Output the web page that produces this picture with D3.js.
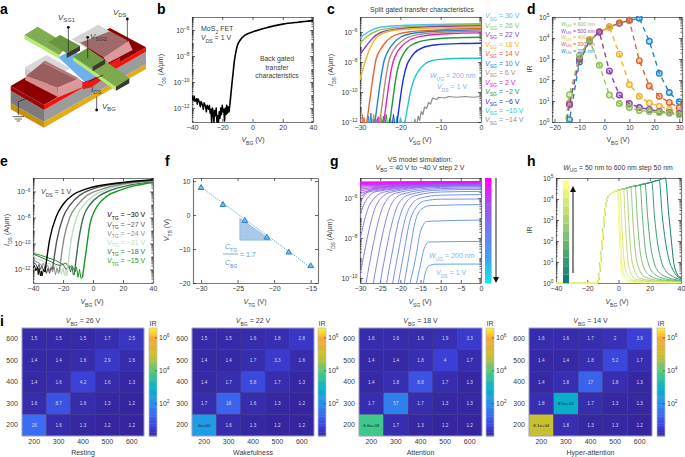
<!DOCTYPE html>
<html><head><meta charset="utf-8">
<script src="https://cdn.jsdelivr.net/npm/d3@7"></script>
<style>html,body{margin:0;padding:0;background:#fff}svg{display:block}text{font-family:"Liberation Sans",Arial,sans-serif}</style>
</head><body><svg id="c" width="685" height="457"></svg>
<script>
// ---------- panel b ----------
const bNoise=[[-40,-11.1],[-39,-11.4],[-38.5,-11.1],[-38,-11.5],[-37,-11.3],[-36.5,-11.7],[-36,-11.3],[-35,-11.6],[-34.5,-11.9],[-34,-11.5],[-33,-11.8],[-32.5,-12.1],[-32,-11.6],[-31,-11.9],[-30.5,-12.3],[-30,-11.8],[-29,-12.1],[-28.5,-11.8],[-28,-12.4],[-27.5,-12.1],[-27,-13.1],[-26.5,-12],[-26,-12.3],[-25.5,-13.1],[-25,-12.2],[-24.5,-12.6],[-24,-12],[-23.5,-13.1],[-23,-12.6],[-22.5,-13.1],[-22,-12.3],[-21.5,-12.8],[-21,-12],[-20.5,-12.5],[-20,-11.8],[-19.5,-12.3],[-19,-12.1],[-18.5,-13],[-18,-12],[-17.5,-12.5],[-17,-11.8],[-16.5,-12.4],[-16,-11.9],[-15.5,-12.3],[-15,-11.8]];
const bRise=[[-15,-11.8],[-14,-10.6],[-13,-9.5],[-12,-8.4],[-11,-7.7],[-10,-7.2],[-8,-6.75],[-5,-6.4],[0,-6.15],[10,-5.8],[20,-5.55],[30,-5.4],[40,-5.28]];
// ---------- panel c ----------
const cGates=[30,26,22,18,14,10,6,2,-2,-6,-10,-14];
const cColors=["#55bdea","#8fc24f","#8e44ad","#f6b321","#e9642b","#1f86c9","#b18d6e","#e021c8","#1f9a32","#1b2de6","#22c8c0","#8c8c8c"];
const cCurves=[
[[-30,-6.4],[-28,-6.0],[-26,-5.75],[-22,-5.6],[-12,-5.5],[0,-5.45]],
[[-30,-6.73],[-28,-6.25],[-26,-5.95],[-22,-5.72],[-12,-5.57],[0,-5.5]],
[[-30,-7.5],[-28.5,-6.95],[-27,-6.45],[-25,-6.05],[-21,-5.8],[-12,-5.65],[0,-5.58]],
[[-30,-9.2],[-29,-8.2],[-28,-7.4],[-27,-6.8],[-26,-6.4],[-24,-6.05],[-20,-5.85],[-10,-5.72],[0,-5.68]],
[[-28.4,-12.2],[-27.6,-10.6],[-27,-9.4],[-26,-7.8],[-25,-7.2],[-24,-6.8],[-22,-6.3],[-18,-6.0],[-10,-5.85],[0,-5.77]],
[[-26.4,-12.2],[-25.6,-10.6],[-25,-9.4],[-24,-7.9],[-23,-7.25],[-22,-6.85],[-20,-6.35],[-16,-6.05],[-8,-5.92],[0,-5.86]],
[[-25.2,-12.2],[-24.4,-10.6],[-23.8,-9.4],[-22.8,-7.9],[-21.8,-7.25],[-20.8,-6.9],[-18.8,-6.45],[-15,-6.15],[-8,-6.0],[0,-5.95]],
[[-24.2,-12.2],[-23.4,-10.6],[-22.8,-9.4],[-21.8,-8],[-20.8,-7.35],[-19.8,-7],[-17.8,-6.55],[-14,-6.25],[-7,-6.1],[0,-6.06]],
[[-22.7,-12.2],[-21.9,-10.6],[-21.3,-9.4],[-20.3,-8.1],[-19.3,-7.5],[-18.3,-7.1],[-16.3,-6.75],[-12.5,-6.5],[-6,-6.38],[0,-6.35]],
[[-20.9,-12.2],[-20.1,-10.6],[-19.5,-9.5],[-18.5,-8.3],[-17.5,-7.75],[-16.5,-7.4],[-14.5,-7.05],[-11,-6.85],[-5,-6.77],[0,-6.75]],
[[-19,-12.2],[-18.2,-11],[-17.5,-10],[-16.5,-9.1],[-15.5,-8.6],[-14,-8.15],[-12,-7.9],[-9,-7.8],[-4,-7.75],[0,-7.75]],
[]];
const cGreyCurve=[[-17.6,-12.5],[-17.2,-12],[-16.8,-12.8],[-16.4,-11.8],[-16,-12.4],[-15.6,-11.6],[-15.2,-11.9],[-14.8,-11.3],[-14.4,-11.5],[-14,-11],[-13.5,-11.1],[-13,-10.7],[-12.5,-10.8],[-12,-10.4],[-11,-10.5],[-10.5,-10.35],[-9,-10.4],[-8,-10.3],[-6,-10.35],[-4,-10.3],[-2,-10.35],[0,-10.3]];
const cNoise=[
[[-29.6,-12.4],[-29.4,-11.5],[-29.2,-12.4],[-29,-11.7],[-28.8,-12.4]],
[[-28.2,-12.4],[-27.9,-11.6],[-27.6,-12.4],[-27.3,-11.4],[-27,-12.4],[-26.7,-11.8],[-26.5,-12.4]],
[[-27,-12.4],[-26.6,-11.5],[-26.3,-12.4],[-26,-11.8],[-25.7,-12.4],[-25.4,-11.6],[-25.2,-12.4]],
[[-26,-12.4],[-25.6,-11.7],[-25.3,-12.4],[-24.9,-11.5],[-24.5,-12.4],[-24.2,-12]],
[[-24.6,-12.4],[-24.2,-11.6],[-23.9,-12.4],[-23.5,-11.5],[-23.1,-12.4],[-22.7,-11.8],[-22.5,-12.4]],
[[-23,-12.4],[-22.5,-11.7],[-22.1,-12.4],[-21.7,-11.5],[-21.3,-12.4],[-20.9,-12]],
[[-21.3,-12.4],[-20.8,-11.6],[-20.4,-12.4],[-20,-11.7],[-19.5,-12.4],[-19,-12]]];
const cNoiseColors=["#e9642b","#1f86c9","#b18d6e","#e021c8","#1f9a32","#1b2de6","#22c8c0"];
// ---------- panel d ----------
const dWidths=[600,500,400,300,200];
const dColors=["#8fc24f","#8e44ad","#f0b429","#e0632b","#1f86c9"];
const dSeries=[
[[-18,-2],[-14,1.3],[-10,3.15],[-6,3.9],[-2,2.7],[2,1.28],[6,.88],[10,.69],[14,.55],[18,.5],[22,.45],[26,.42],[30,.35]],
[[-18,-2],[-14,.83],[-10,3],[-6,3.9],[-2,4.28],[2,2.43],[6,1.28],[10,.88],[14,.69],[18,.6],[22,.5],[26,.45],[30,.4]],
[[-18,-2],[-14,.9],[-10,3],[-6,3.9],[-2,4.28],[2,4.52],[6,3.23],[10,1.79],[14,1.23],[18,.91],[22,.75],[26,.6],[30,.48]],
[[-18,-2],[-14,.9],[-10,3],[-6,3.9],[-2,4.28],[2,4.52],[6,4.71],[10,4.84],[14,2.92],[18,1.71],[22,1.23],[26,.93],[30,.69]],
[[-18,-4],[-14,.11],[-10,2.86],[-6,3.85],[-2,4.28],[2,4.52],[6,4.7],[10,4.84],[14,4.94],[18,3.85],[22,2.32],[26,1.4],[30,.96]]];
// ---------- panel e ----------
const eGates=[-30,-27,-24,-21,-18,-15];
const eColors=["#000000","#565656","#8e8e8e","#bcdcbc","#3d6f52","#169a1e"];
const eCurves=[
[[-32,-12.2],[-28.9,-9.7],[-24.4,-7.9],[-20,-7],[-13.3,-6.25],[-4.4,-5.8],[20,-5.3],[40,-5.1]],
[[-27,-12],[-24,-9.7],[-20,-8],[-15,-7],[-9,-6.3],[0,-5.8],[20,-5.35],[40,-5.13]],
[[-22.5,-12.2],[-19.5,-9.7],[-15.5,-8],[-10,-7],[-4,-6.3],[5,-5.85],[20,-5.42],[40,-5.15]],
[[-17.5,-12.5],[-14.5,-9.7],[-11,-8],[-6,-7],[0,-6.35],[8,-5.9],[22,-5.45],[40,-5.18]],
[[-12.5,-12.4],[-9.5,-9.7],[-6.5,-8],[-2,-7],[4,-6.35],[12,-5.9],[25,-5.5],[40,-5.22]],
[[-7,-12.6],[-4.5,-10.5],[-2,-8.5],[1,-7.5],[5,-6.8],[10,-6.3],[18,-5.9],[28,-5.55],[40,-5.3]]];
const eNoise=[
[[-40,-11.9],[-39,-11.7],[-38,-12.1],[-37,-11.8],[-36.5,-12.4],[-36,-11.9],[-35,-12.5],[-34.5,-12.1],[-34,-12.5],[-33,-12],[-32,-12.2]],
[[-40,-11.5],[-38,-11.6],[-37,-11.9],[-36,-11.6],[-35,-12],[-34,-11.7],[-33,-12.1],[-32,-11.8],[-31,-12.3],[-30,-11.9],[-29,-12.3],[-28,-11.9],[-27,-12]],
[[-40,-11.2],[-38,-11.4],[-36,-11.5],[-34,-11.7],[-33,-11.5],[-32,-11.9],[-30,-11.7],[-29,-12.1],[-28,-11.8],[-27,-12.2],[-26,-11.8],[-25,-12.4],[-24,-11.9],[-23,-12.3],[-22.5,-12.2]],
[[-40,-11],[-37,-11.2],[-34,-11.3],[-31,-11.6],[-29,-11.5],[-27,-11.9],[-25,-11.7],[-23,-12.1],[-22,-11.8],[-21,-12.4],[-20,-11.9],[-19,-12.5],[-18.3,-12],[-17.5,-12.5]],
[[-40,-10.8],[-36,-11],[-32,-11.2],[-28,-11.4],[-25,-11.6],[-22,-11.7],[-20,-11.6],[-18,-12],[-16,-11.7],[-15,-12.2],[-14,-11.8],[-13.2,-12.4],[-12.5,-12.4]],
[[-40,-10.75],[-35,-10.9],[-30,-11.1],[-25,-11.3],[-20,-11.6],[-18,-11.5],[-16,-11.9],[-14,-11.7],[-12,-12.2],[-11,-11.8],[-10,-12.6],[-9,-12],[-8,-12.7],[-7,-12.6]]];
// ---------- panel f ----------
const fTg=[-30,-27,-24,-21,-18,-15];
const fTb=[8,3,-1.7,-6.6,-11,-15];
const fFit=[[-30,8.2],[-15,-15.4]];
const fWedge=[[-24.7,-0.9],[-24.7,-7.4],[-20.4,-7.4]];
// ---------- panel g ----------
const gGates=[-14,-12,-10,-8,-6,-4,-2,0,2,4,6,8,10,12,14,16,18,20,22,24,26,28,30,32,34,36,38,40];
const gCurves=[
[[-14.3,-10.25],[-13.8,-9.75],[-13,-9.4],[-11.3,-9.31],[0,-9.3]],
[[-16,-10.25],[-15,-9.33],[-14.2,-8.6],[-12.9,-8.2],[0,-8.17]],
[[-17.6,-10.25],[-16.3,-9.1],[-15,-7.67],[-13.4,-7.17],[0,-7.1]],
[[-19,-10.25],[-17.6,-8.6],[-16.3,-7.17],[-14.7,-6.55],[-12.6,-6.38],[0,-6.33]],
[[-20.5,-10.25],[-19,-8.6],[-17.7,-7.2],[-16.2,-6.5],[-14,-6.15],[-10,-6.06],[0,-6.05]],
[[-21.9,-10.25],[-20.4,-8.6],[-19,-7.2],[-17.5,-6.4],[-15,-6],[-10,-5.86],[0,-5.83]],
[[-23.4,-10.25],[-21.9,-8.6],[-20.5,-7.2],[-19,-6.35],[-16.5,-5.9],[-10,-5.7],[0,-5.67]],
[[-25,-10.25],[-23.5,-8.6],[-22,-7.2],[-20.5,-6.3],[-18,-5.85],[-10,-5.6],[0,-5.57]],
[[-26.7,-10.25],[-25.2,-8.6],[-23.7,-7.2],[-22.2,-6.3],[-19.5,-5.8],[-10,-5.53],[0,-5.5]],
[[-28.5,-10.25],[-27,-8.6],[-25.5,-7.2],[-24,-6.3],[-21,-5.75],[-10,-5.47],[0,-5.44]],
[[-30,-9.9],[-28.8,-8.6],[-27.3,-7.2],[-25.8,-6.3],[-22.5,-5.72],[-10,-5.42],[0,-5.4]],
[[-30,-8.1],[-29,-7.2],[-27.5,-6.3],[-24,-5.7],[-10,-5.4],[0,-5.37]],
[[-30,-6.9],[-29,-6.3],[-26,-5.68],[-10,-5.38],[0,-5.35]],
[[-30,-6.25],[-28,-5.7],[-10,-5.36],[0,-5.33]],
[[-30,-5.95],[-27,-5.6],[-10,-5.34],[0,-5.31]],
[[-30,-5.78],[-25,-5.5],[-10,-5.32],[0,-5.3]],
[[-30,-5.65],[-24,-5.45],[-10,-5.3],[0,-5.28]],
[[-30,-5.55],[-22,-5.4],[-10,-5.29],[0,-5.27]],
[[-30,-5.47],[-20,-5.36],[-10,-5.28],[0,-5.26]],
[[-30,-5.41],[-20,-5.33],[-10,-5.27],[0,-5.25]],
[[-30,-5.37],[-20,-5.31],[0,-5.24]],
[[-30,-5.34],[-20,-5.29],[0,-5.23]],
[[-30,-5.31],[-20,-5.27],[0,-5.22]],
[[-30,-5.28],[-20,-5.25],[0,-5.21]],
[[-30,-5.26],[-20,-5.23],[0,-5.2]],
[[-30,-5.24],[-20,-5.21],[0,-5.19]],
[[-30,-5.22],[-20,-5.2],[0,-5.18]],
[[-30,-5.2],[-20,-5.19],[0,-5.17]]];
const gBarStops=[-40,-20,0,20,40];
const gBarColors=["#0aeee0","#3fa2f0","#6f7cf0","#a550ee","#ff00ff"];
// ---------- panel h ----------
const hWidths=[50,100,150,200,250,300,350,400,450,500,550,600];
const hRise=[[-40,0],[-13.4,0],[-10.6,1.75],[-8.5,3.5],[-6.4,4.13],[-3,4.32],[-0.8,4.41],[3,4.47],[8,4.58],[13,4.65],[16,4.71],[20,4.78],[26,4.9],[30,5]];
const hFalls=[
[[30,5],[32,3.4],[34,1.9],[35.1,1.11],[37.2,.48],[40,.24]],
[[26,4.9],[28,3.2],[30,2],[32,1.2],[35,.6],[40,.2]],
[[21.3,4.8],[23,3.2],[25,1.9],[27,1.15],[30,.6],[35,.3],[40,.15]],
[[17,4.72],[18.6,3.2],[20.5,1.8],[22.5,1.05],[26,.5],[32,.25],[40,.12]],
[[13.8,4.66],[15.3,3.2],[17,1.7],[19,.95],[23,.42],[30,.2],[40,.1]],
[[10.6,4.62],[12,3.1],[13.7,1.6],[15.7,.85],[20,.35],[28,.15],[40,.08]],
[[7.9,4.58],[9.2,3],[10.8,1.5],[12.8,.75],[17,.28],[26,.12],[40,.06]],
[[5.3,4.53],[6.5,3],[8,1.4],[10,.65],[14,.22],[24,.09],[40,.05]],
[[3.2,4.49],[4.3,3],[5.7,1.3],[7.5,.55],[11,.18],[22,.07],[40,.04]],
[[1,4.46],[2,3],[3.4,1.2],[5.2,.45],[9,.14],[20,.05],[40,.03]],
[[-0.3,4.43],[.7,3],[2,1.1],[3.6,.35],[7,.1],[18,.03],[40,.02]],
[[-0.8,4.41],[.2,2.8],[1.3,1],[2.8,.25],[5.5,.06],[15,.01],[40,0]]];
const hBarColors=["#0f7f6f","#5cb070","#b9d97a","#fbfb82"];
// ---------- panel i ----------
const iSizes=["200","300","400","500","600"];
const iTitles=["26","22","18","14"];
const iStates=["Resting","Wakefulness","Attention","Hyper-attention"];
const iTable1=[["1.5","1.5","1.5","1.7","2.5"],["1.4","1.4","1.6","2.9","1.6"],["1.4","1.6","4.2","1.6","1.3"],["1.6","8.7","1.6","1.3","1.2"],["26","1.6","1.3","1.2","1.2"]];
const iTable2=[["1.5","1.5","1.6","1.8","2.8"],["1.4","1.4","1.7","3.3","1.6"],["1.4","1.7","5.8","1.7","1.3"],["1.7","18","1.6","1.3","1.2"],["2e+02","1.6","1.3","1.2","1.2"]];
const iTable3=[["1.6","1.6","1.6","1.9","3.3"],["1.4","1.4","1.8","4","1.7"],["1.4","1.8","8.8","1.7","1.3"],["1.7","57","1.7","1.3","1.3"],["6.6e+03","1.7","1.3","1.2","1.2"]];
const iTable4=[["1.6","1.6","1.7","2","3.9"],["1.4","1.4","1.8","5.2","1.7"],["1.4","1.8","17","1.8","1.3"],["1.8","8.5e+02","1.7","1.3","1.3"],["8.1e+04","1.8","1.3","1.3","1.2"]];
const iColorExp=[0.05,0.6,1.4,2.3,2.93,3.8,4.9,6,6.6];
const iColorRamp=["#35249c","#3b3fd6","#3a6cf2","#1e9ce6","#05b0c8","#3cc88c","#c8c030","#f6a832","#f8f820"];

// ---------- helpers ----------
const svg=d3.select("#c");
const INK="#3a3a3a", SZ=7;
let clipN=0;
function rich(parent,x,y,s,o={}){
  const size=o.size||SZ, fill=o.fill||INK;
  const t=parent.append("text").attr("x",x).attr("y",y+size*0.35)
    .attr("font-size",size).attr("fill",fill).attr("text-anchor",o.anchor||"start");
  if(o.rotate) t.attr("transform",`rotate(${o.rotate} ${x} ${y})`);
  if(o.weight) t.attr("font-weight",o.weight);
  let off=0;
  (s.match(/\*[^*]+\*|_\{[^}]*\}|\^\{[^}]*\}|[^*_^]+/g)||[]).forEach(tok=>{
    const ts=t.append("tspan");let want=0;
    if(tok[0]==="*"){ts.text(tok.slice(1,-1)).attr("font-style","italic");}
    else if(tok[0]==="_"){ts.text(tok.slice(2,-1)).attr("font-size",size*0.72);want=size*0.3;}
    else if(tok[0]==="^"){ts.text(tok.slice(2,-1)).attr("font-size",size*0.7);want=-size*0.42;}
    else ts.text(tok);
    if(want!==off) ts.attr("dy",want-off);
    off=want;
  });
  return t;
}
const fmt=d3.format("d");
function styleAxis(g){
  g.select(".domain").attr("stroke","#7a7a7a").attr("stroke-width",1.2);
  g.selectAll(".tick line").attr("stroke","#222").attr("stroke-width",.7);
  g.selectAll(".tick text").attr("font-size",SZ).attr("fill",INK).attr("font-family","Liberation Sans");
}
function panel(o){
  const g=svg.append("g");
  const x=d3.scaleLinear().domain(o.xd).range([o.x0,o.x1]);
  const y=o.log?d3.scaleLog().domain([10**o.yd[0],10**o.yd[1]]).range([o.y1,o.y0])
               :d3.scaleLinear().domain(o.yd).range([o.y1,o.y0]);
  const yv=o.log?(e=>y(10**e)):y;
  const ax=(fn,sc,vals,tr,labelled)=>{
    const a=fn(sc).tickValues(vals).tickSizeInner(-3).tickSizeOuter(0).tickPadding(3.2).tickFormat(labelled?fmt:"");
    const gg=g.append("g").attr("transform",tr).call(a);styleAxis(gg);return gg;
  };
  ax(d3.axisBottom,x,o.xt,`translate(0,${o.y1})`,true);
  ax(d3.axisTop,x,o.xt,`translate(0,${o.y0})`,false);
  let yVals=o.yt;
  if(o.log){
    yVals=[];
    for(let e=Math.floor(o.yd[0]);e<Math.ceil(o.yd[1]);e++)for(let m=1;m<10;m++){const v=m*10**e;if(v>=10**o.yd[0]*.999&&v<=10**o.yd[1]*1.001)yVals.push(v);}
    yVals.push(10**o.yd[1]);
  }
  const isMajor=v=>{const e=Math.log10(v);return Math.abs(e-Math.round(e))<1e-6&&o.yt.includes(Math.round(e));};
  [[d3.axisLeft,o.x0,-1],[d3.axisRight,o.x1,1]].forEach(([fn,px,side])=>{
    const a=fn(y).tickValues(yVals).tickSizeOuter(0).tickPadding(2.5).tickSizeInner(-3).tickFormat(side<0?(o.log?"":fmt):"");
    const gg=g.append("g").attr("transform",`translate(${px},0)`).call(a);styleAxis(gg);
    if(o.log){
      gg.selectAll(".tick line").attr("x2",d=>isMajor(d)?-side*3:-side*1.6);
      if(side<0) gg.selectAll(".tick").each(function(d){
        if(isMajor(d)) rich(d3.select(this),-2.5,0,`10^{${fmt(Math.round(Math.log10(d)))}}`,{anchor:"end"});
      });
    }
  });
  const id="cp"+(++clipN);
  svg.append("clipPath").attr("id",id).append("rect").attr("x",o.x0).attr("y",o.y0-1).attr("width",o.x1-o.x0).attr("height",o.y1-o.y0+2);
  const plot=svg.append("g").attr("clip-path",`url(#${id})`);
  const lin=d3.line().x(d=>x(d[0])).y(d=>yv(d[1]));
  const smooth=d3.line().x(d=>x(d[0])).y(d=>yv(d[1])).curve(d3.curveMonotoneX);
  return {x,y,yv,g,plot,lin,smooth};
}
function stroke(p,path,data,color,w,extra){
  const s=p.plot.append("path").attr("d",path(data)).attr("fill","none").attr("stroke",color).attr("stroke-width",w).attr("stroke-linejoin","round");
  if(extra) s.attr("stroke-dasharray",extra);
  return s;
}
[["a",0,9],["b",157,9],["c",327,9],["d",527,9],["e",0,161],["f",165,161],["g",330,161],["h",527,161],["i",0,321]]
 .forEach(([l,x,y])=>rich(svg,x,y,l,{size:14,weight:"bold",fill:"#000"}));

// ---------- panel a : device schematic ----------
const sch=d3.scaleLinear().domain([0,690]).range([0,230]);
const schLine=d3.line().x(d=>sch(d[0])).y(d=>sch(d[1]));
const faces=[
["#c4920f",[[32,310],[132,365],[132,383],[32,328]]],
["#e3ad16",[[132,365],[438,192],[438,207],[132,383]]],
["#7b7b7b",[[32,272],[132,330],[132,365],[32,310]]],
["#9c9c9c",[[132,330],[438,155],[438,192],[132,365]]],
["#a00808",[[32,258],[132,315],[132,330],[32,272]]],
["#ee1414",[[132,315],[438,142],[438,155],[132,330]]],
["#8d0000",[[32,258],[150,190],[250,246],[132,315]]],
["#8d0000",[[240,130],[330,84],[438,142],[335,200]]],
["#d8d8d8",[[75,202],[140,165],[210,205],[145,245]]],
["#c9c9c9",[[75,202],[145,245],[145,262],[75,225]]],
["#d4d4d4",[[215,118],[295,74],[340,100],[262,146]]],
["#6eb1ea",[[175,172],[215,150],[330,212],[275,250],[250,242]]],
["#eb1a1a",[[235,250],[248,246],[248,268],[275,262],[340,215],[340,198],[360,186],[360,172],[322,195],[320,212],[270,240],[235,250]]],
["#9a5e5e",[[78,228],[135,182],[235,235],[172,262]]],
["#b87c7c",[[135,182],[168,200],[205,218],[235,235],[232,240],[130,190]]],
["#d89a9a",[[172,262],[235,235],[247,245],[247,262],[175,292]]],
["#d68f8f",[[78,228],[172,262],[175,292],[75,240]]],
["#a06a6a",[[240,128],[330,94],[385,122],[310,172]]],
["#d89a9a",[[310,172],[385,122],[398,150],[322,190]]],
["#b7ec72",[[73,105],[178,165],[178,176],[73,117]]],
["#82ac52",[[73,105],[113,80],[205,135],[178,165]]],
["#6a9640",[[145,127],[180,105],[240,137],[200,160]]],
["#3a3a2c",[[200,160],[240,137],[240,152],[200,174]]],
["#b7ec72",[[220,170],[348,260],[348,272],[220,182]]],
["#7fa94e",[[220,170],[262,145],[388,235],[348,260]]],
["#6d9a44",[[220,170],[262,145],[315,180],[278,205]]],
["#3a3a2c",[[278,200],[315,178],[315,192],[278,214]]],
["#3a3a2c",[[348,260],[388,235],[388,250],[348,272]]]];
const schG=svg.append("g");
faces.forEach(([c,p])=>schG.append("path").attr("d",schLine(p)+"Z").attr("fill",c));
const wires=[[[205,82],[205,155]],[[263,112],[263,175]],[[382,57],[382,125]],[[290,330],[290,290]],[[265,245],[310,225]],[[55,345],[55,305],[80,295]],[[38,350],[72,350]],[[44,357],[66,357]],[[50,363],[60,363]]];
wires.forEach(w=>schG.append("path").attr("d",schLine(w)).attr("fill","none").attr("stroke","#222").attr("stroke-width",.7));
[[205,82],[263,112],[382,57],[290,330]].forEach(d=>schG.append("circle").attr("cx",sch(d[0])).attr("cy",sch(d[1])).attr("r",1.4).attr("fill","#111"));
[["*V*_{SG1}",58,17],["*V*_{DS}",113,12],["*V*_{SG2}",90,36],["*I*_{DS}",91,89],["*V*_{BG}",102,106]].forEach(([s,x,y])=>rich(svg,x,y,s,{size:8}));

// ---------- panel b ----------
{const p=panel({x0:192,x1:313,y0:17,y1:122,xd:[-40,40],yd:[-13.08,-5],log:true,xt:[-40,-20,0,20,40],yt:[-12,-10,-8,-6]});
 stroke(p,p.lin,bNoise,"#000",1.5);stroke(p,p.smooth,bRise,"#000",1.6);
 rich(svg,201,29,"MoS_{2} FET");rich(svg,201,38,"*V*_{DS} = 1 V");
 ["Back gated","transfer","characteristics"].forEach((t,i)=>rich(svg,277,59+i*8.5,t,{anchor:"middle",size:6.8}));
 rich(svg,161,70,"*I*_{DS} (A/µm)",{anchor:"middle",rotate:-90});
 rich(svg,253,140,"*V*_{BG} (V)",{anchor:"middle"});}

// ---------- panel c ----------
{const q=panel({x0:360,x1:481,y0:17,y1:122,xd:[-30,0],yd:[-12,-5],log:true,xt:[-30,-20,-10,0],yt:[-12,-10,-8,-6]});
 cNoise.forEach((n,i)=>stroke(q,q.lin,n,cNoiseColors[i],1));
 stroke(q,q.lin,cGreyCurve,cColors[11],1.2);
 cCurves.forEach((c,i)=>{if(c.length)stroke(q,q.smooth,c,cColors[i],1.4);});
 rich(svg,422,10,"Split gated transfer characteristics",{anchor:"middle",size:6.9});
 rich(svg,430,76,"*W*_{UG} = 200 nm",{fill:"#86b2e2"});rich(svg,437,87,"*V*_{DS} = 1 V",{fill:"#86b2e2"});
 cGates.forEach((v,i)=>rich(svg,485,16+i*9.45,`*V*_{SG} = ${fmt(v)} V`,{fill:cColors[i]}));
 rich(svg,331,70,"*I*_{DS} (A/µm)",{anchor:"middle",rotate:-90});
 rich(svg,420,140,"*V*_{SG} (V)",{anchor:"middle"});}

// ---------- panel d ----------
{const p=panel({x0:552,x1:682,y0:17,y1:122,xd:[-21,31.1],yd:[0,5],log:true,xt:[-20,-10,0,10,20,30],yt:[0,1,2,3,4,5]});
 [4,3,2,1,0].forEach(i=>{
  stroke(p,p.lin,dSeries[i],dColors[i],1.4,"5 4");
  p.plot.selectAll(null).data(dSeries[i]).join("circle").attr("cx",d=>p.x(d[0])).attr("cy",d=>p.yv(d[1])).attr("r",2.8)
    .attr("fill",dColors[i]).attr("fill-opacity",.3).attr("stroke",dColors[i]).attr("stroke-width",1.4);
 });
 dWidths.forEach((w,i)=>rich(svg,561,24+i*6.7,`*W*_{UG} = ${w} nm`,{size:5.2,fill:dColors[i]}));
 rich(svg,530,69,"IR",{anchor:"middle",rotate:-90});
 rich(svg,618,140,"V_{BG} (V)",{anchor:"middle"});}

// ---------- panel e ----------
{const p=panel({x0:33,x1:153,y0:178,y1:283,xd:[-40,40],yd:[-13.04,-4.96],log:true,xt:[-40,-20,0,20,40],yt:[-12,-10,-8,-6]});
 [5,4,3,2,1,0].forEach(i=>{stroke(p,p.lin,eNoise[i],eColors[i],1);stroke(p,p.smooth,eCurves[i],eColors[i],1.4);});
 rich(svg,41,192,"*V*_{DS} = 1 V");
 eGates.forEach((v,i)=>rich(svg,107,215+i*9.2,`*V*_{TG} = ${fmt(v)} V`,{fill:eColors[i]}));
 rich(svg,7,230,"*I*_{DS} (A/µm)",{anchor:"middle",rotate:-90});
 rich(svg,92,302,"*V*_{BG} (V)",{anchor:"middle"});}

// ---------- panel f ----------
{const p=panel({x0:193,x1:318,y0:178,y1:283,xd:[-31.1,-14],yd:[-20,10.9],log:false,xt:[-30,-25,-20,-15],yt:[-20,-10,0,10]});
 const w=d3.line().x(d=>p.x(d[0])).y(d=>p.y(d[1]));
 p.plot.append("path").attr("d",w(fWedge)+"Z").attr("fill","#a9c9ea").attr("stroke","#6ea0d6").attr("stroke-width",.5);
 stroke(p,w,fFit,"#4f9ad8",.8,"1.5 1");
 const tri=d3.symbol().type(d3.symbolTriangle).size(14);
 p.plot.selectAll(null).data(fTg).join("path").attr("d",tri).attr("transform",(d,i)=>`translate(${p.x(d)},${p.y(fTb[i])})`)
   .attr("fill","#7db8e8").attr("stroke","#2a82cc").attr("stroke-width",1);
 const B="#4f9ad8";
 rich(svg,225,247,"*C*_{TG}",{fill:B});rich(svg,225,263,"*C*_{BG}",{fill:B});
 svg.append("line").attr("x1",223).attr("x2",238).attr("y1",254).attr("y2",254).attr("stroke",B).attr("stroke-width",.8);
 rich(svg,240,255,"= 1.7",{fill:B});
 rich(svg,167,230,"*V*_{TB} (V)",{anchor:"middle",rotate:-90});
 rich(svg,255,302,"*V*_{TG} (V)",{anchor:"middle"});}

// ---------- panel g ----------
{const p=panel({x0:360,x1:481,y0:178,y1:283,xd:[-30,0],yd:[-10.25,-5],log:true,xt:[-30,-25,-20,-15,-10,-5,0],yt:[-10,-8,-6]});
 const col=d3.scaleLinear().domain(gBarStops).range(gBarColors);
 gCurves.forEach((c,i)=>stroke(p,p.smooth,c,col(gGates[i]),.9));
 const bar=d3.scaleLinear().domain([40,-40]).range([178,283]);
 svg.selectAll(null).data(d3.range(40,-40,-2)).join("rect").attr("x",485).attr("width",6.5).attr("y",d=>bar(d)).attr("height",bar(0)-bar(2)+.5).attr("fill",d=>col(d));
 svg.append("line").attr("x1",496).attr("x2",496).attr("y1",178).attr("y2",277).attr("stroke","#222").attr("stroke-width",1);
 svg.append("path").attr("d","M493,277L499,277L496,283Z").attr("fill","#111");
 rich(svg,420,160,"VS model simulation:",{anchor:"middle",size:6.9});
 rich(svg,420,168,"*V*_{BG} = 40 V to −40 V step 2 V",{anchor:"middle",size:6.9});
 rich(svg,429,256,"*W*_{UG} = 200 nm",{fill:"#86b2e2"});rich(svg,436,273,"*V*_{DS} = 1 V",{fill:"#86b2e2"});
 rich(svg,330,235,"*I*_{DS} (A/µm)",{anchor:"middle",rotate:-90});
 rich(svg,420,302,"*V*_{SG} (V)",{anchor:"middle"});}

// ---------- panel h ----------
{const p=panel({x0:556,x1:681,y0:178,y1:283,xd:[-40,40],yd:[0,5],log:true,xt:[-40,-20,0,20,40],yt:[0,1,2,3,4,5]});
 const col=d3.scaleLinear().domain([50,233,417,600]).range(hBarColors);
 hWidths.forEach((w,i)=>{
  const peak=hFalls[i][0][0];
  stroke(p,p.smooth,hRise.filter(d=>d[0]<peak).concat(hFalls[i]),col(w),1);
 });
 const bar=d3.scaleLinear().domain([600,50]).range([185,279]);
 svg.selectAll(null).data(hWidths).join("rect").attr("x",563).attr("width",6).attr("y",d=>bar(d)-4.3).attr("height",8.6).attr("fill",d=>col(d));
 svg.append("line").attr("x1",573).attr("x2",573).attr("y1",273).attr("y2",192).attr("stroke","#111").attr("stroke-width",1);
 svg.append("path").attr("d","M570,192L576,192L573,186Z").attr("fill","#111");
 rich(svg,618,168,"*W*_{UG} = 50 nm to 600 nm step 50 nm",{anchor:"middle",size:6.9});
 rich(svg,530,230,"IR",{anchor:"middle",rotate:-90});
 rich(svg,617,302,"*V*_{BG} (V)",{anchor:"middle"});}

// ---------- panel i ----------
const heatColor=d3.scaleLinear().domain(iColorExp).range(iColorRamp);
[iTable1,iTable2,iTable3,iTable4].forEach((tbl,k)=>{
  const X0=[22,192,359,529][k],X1=[144,314,482,652][k],B0=[149,318,486,657][k];
  const Y0=328,Y1=436;
  const x=d3.scaleBand().domain(iSizes).range([X0,X1]);
  const y=d3.scaleBand().domain(iSizes.slice().reverse()).range([Y0,Y1]);
  const g=svg.append("g");
  const rows=y.domain();
  tbl.forEach((row,r)=>row.forEach((s,c)=>{
    const v=+s;
    g.append("rect").attr("x",x(iSizes[c])).attr("y",y(rows[r])).attr("width",x.bandwidth()).attr("height",y.bandwidth())
      .attr("fill",heatColor(Math.log10(v))).attr("stroke","#2e2680").attr("stroke-width",.35);
    g.append("text").attr("x",x(iSizes[c])+x.bandwidth()/2).attr("y",y(rows[r])+y.bandwidth()/2+1.6).attr("text-anchor","middle")
      .attr("font-size",v>=100?4.4:4.6).attr("fill",v>=100?"#14143c":"#d6d6ee").text(s);
  }));
  g.append("rect").attr("x",X0).attr("y",Y0).attr("width",X1-X0).attr("height",Y1-Y0).attr("fill","none").attr("stroke","#b9b9d6").attr("stroke-width",.8);
  const ab=g.append("g").attr("transform",`translate(0,${Y1})`).call(d3.axisBottom(x).tickSize(0).tickPadding(3));
  const al=g.append("g").attr("transform",`translate(${X0},0)`).call(d3.axisLeft(y).tickSize(0).tickPadding(4));
  [ab,al].forEach(a=>{a.select(".domain").remove();a.selectAll("text").attr("font-size",SZ).attr("fill",INK).attr("font-family","Liberation Sans");});
  const cx=(X0+X1)/2;
  rich(svg,cx,321,`*V*_{BG} = ${iTitles[k]} V`,{anchor:"middle"});
  rich(svg,cx,453,iStates[k],{anchor:"middle"});
  const by=d3.scaleLinear().domain([0.05,6.6]).range([Y1,Y0]);
  const bh=(Y1-Y0)/60;
  g.selectAll(null).data(d3.range(0,60)).join("rect").attr("x",B0).attr("width",8).attr("y",d=>Y1-(d+1)*bh).attr("height",bh+.4)
    .attr("fill",d=>heatColor(by.invert(Y1-(d+.5)*bh)));
  g.append("rect").attr("x",B0).attr("y",Y0).attr("width",8).attr("height",Y1-Y0).attr("fill","none").attr("stroke","#b9b9d6").attr("stroke-width",.7);
  [2,4,6].forEach(e=>{
    g.append("line").attr("x1",B0+8).attr("x2",B0+6).attr("y1",by(e)).attr("y2",by(e)).attr("stroke","#333").attr("stroke-width",.6);
    rich(svg,B0+10,by(e),`10^{${e}}`);
  });
  rich(svg,B0+4,324,"IR",{anchor:"middle"});
});
</script></body></html>
